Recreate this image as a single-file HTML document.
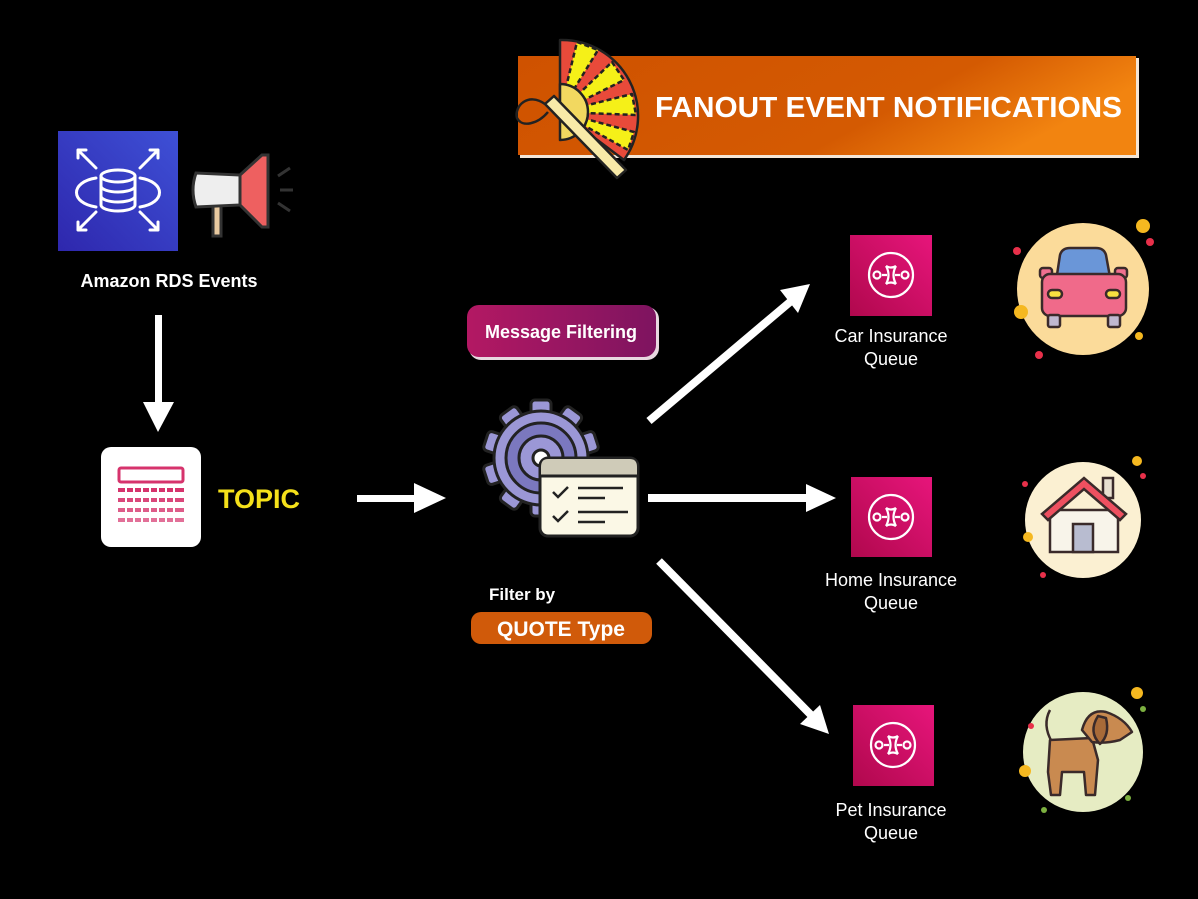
<!DOCTYPE html>
<html><head><meta charset="utf-8"><style>
html,body{margin:0;padding:0;background:#000;}
svg{display:block;}
text{font-family:"Liberation Sans",sans-serif;}
</style></head><body>
<svg width="1198" height="899" viewBox="0 0 1198 899" xmlns="http://www.w3.org/2000/svg">
<defs>
<linearGradient id="ban" x1="0" y1="0" x2="1" y2="0.3"><stop offset="0" stop-color="#cf5200"/><stop offset="0.7" stop-color="#d45a02"/><stop offset="1" stop-color="#f28410"/></linearGradient>
<linearGradient id="rds" x1="0" y1="1" x2="1" y2="0"><stop offset="0" stop-color="#2e27ad"/><stop offset="1" stop-color="#3e50d6"/></linearGradient>
<linearGradient id="sqs" x1="0" y1="1" x2="1" y2="0"><stop offset="0" stop-color="#b0084d"/><stop offset="1" stop-color="#e7157b"/></linearGradient>
<linearGradient id="mf" x1="0" y1="0" x2="1" y2="0"><stop offset="0" stop-color="#b31863"/><stop offset="1" stop-color="#7e1460"/></linearGradient>
</defs>
<rect width="1198" height="899" fill="#000"/>

<!-- Banner -->
<rect x="520" y="58" width="619" height="100" fill="#f3e6d8"/>
<rect x="518" y="56" width="618" height="99" fill="url(#ban)"/>
<text x="655" y="117" fill="#fff" font-size="29" font-weight="bold" textLength="467" lengthAdjust="spacingAndGlyphs">FANOUT EVENT NOTIFICATIONS</text>
<!-- Fan: sector centered (560,112) r 76 -->
<g stroke="#222" stroke-width="2.5" stroke-linejoin="round">
<path d="M560 112 L560 40 A76 76 0 0 1 624 160 Z" fill="#e84a3a"/>
<g fill="#f5f018" stroke-dasharray="5 3">
<path d="M560 112 L577 42 L598 50 Z"/>
<path d="M560 112 L612 62 L624 80 Z"/>
<path d="M560 112 L632 94 L636 115 Z"/>
<path d="M560 112 L634 132 L628 150 Z"/>
</g>
<path d="M560 84 A28 28 0 0 1 560 140 Z" fill="#f2d860"/>
<path d="M545 104 L554 96 L626 170 L617 178 Z" fill="#f8eaa8"/>
<path d="M545 104 C528 92 514 106 517 118 C522 128 538 124 548 112" fill="none"/>
</g>

<!-- RDS -->
<rect x="58" y="131" width="120" height="120" fill="url(#rds)"/>
<g stroke="#fff" stroke-width="3" fill="none" stroke-linecap="round">
<ellipse cx="118" cy="176" rx="17" ry="6"/>
<path d="M101 176 V205 M135 176 V205 M101 186 a17 6 0 0 0 34 0 M101 196 a17 6 0 0 0 34 0 M101 205 a17 6 0 0 0 34 0"/>
<path d="M96 178 C70 182 70 203 96 207 M140 178 C166 182 166 203 140 207"/>
<path d="M78 150 L96 168 M78 150 h8 M78 150 v8 M158 150 L140 168 M158 150 h-8 M158 150 v8 M78 230 L96 212 M78 230 h8 M78 230 v-8 M158 230 L140 212 M158 230 h-8 M158 230 v-8"/>
</g>
<!-- Megaphone -->
<g stroke="#333" stroke-width="3">
<rect x="213" y="200" width="8" height="36" fill="#e8c9a0"/>
<path d="M196 173 Q190 190 196 207 L240 205 L240 175 Z" fill="#eee"/>
<path d="M240 175 L262 155 L268 155 L268 227 L262 227 L240 205 Z" fill="#ee6060"/>
<path d="M278 176 L290 168 M280 190 L293 190 M278 203 L290 211" fill="none"/>
</g>
<text x="169" y="287" fill="#fff" font-size="18" font-weight="bold" text-anchor="middle">Amazon RDS Events</text>

<!-- down arrow -->
<rect x="155" y="315" width="7" height="90" fill="#fff"/>
<path d="M143 402 L174 402 L158 432 Z" fill="#fff"/>

<!-- Topic -->
<rect x="101" y="447" width="100" height="100" rx="10" fill="#fff"/>
<rect x="119" y="468" width="64" height="14" rx="2" fill="none" stroke="#d6336c" stroke-width="3"/>
<g fill="#d6336c">
<rect x="118" y="488" width="66" height="4"/>
<rect x="118" y="498" width="66" height="4" opacity="0.9"/>
<rect x="118" y="508" width="66" height="4" opacity="0.8"/>
<rect x="118" y="518" width="66" height="4" opacity="0.7"/>
</g>
<g stroke="#fff" stroke-width="2"><path d="M126 486 V525 M134 486 V525 M142 486 V525 M150 486 V525 M158 486 V525 M166 486 V525 M174 486 V525"/></g>
<text x="218" y="508" fill="#f5e11a" font-size="27" font-weight="bold">TOPIC</text>

<!-- right arrow -->
<rect x="357" y="495" width="60" height="7" fill="#fff"/>
<path d="M414 483 L446 498 L414 513 Z" fill="#fff"/>

<!-- Message Filtering -->
<rect x="469" y="307" width="190" height="53" rx="12" fill="#e8d8e0"/>
<rect x="467" y="305" width="189" height="52" rx="12" fill="url(#mf)"/>
<text x="561" y="338" fill="#fff" font-size="18" font-weight="bold" text-anchor="middle">Message Filtering</text>

<!-- Gear -->
<g stroke="#222" stroke-width="3" fill="#9b97d6">
<g id="tooth"><rect x="531" y="400" width="20" height="22" rx="4"/></g>
<use href="#tooth" transform="rotate(36 541 458)"/>
<use href="#tooth" transform="rotate(72 541 458)"/>
<use href="#tooth" transform="rotate(108 541 458)"/>
<use href="#tooth" transform="rotate(144 541 458)"/>
<use href="#tooth" transform="rotate(180 541 458)"/>
<use href="#tooth" transform="rotate(216 541 458)"/>
<use href="#tooth" transform="rotate(252 541 458)"/>
<use href="#tooth" transform="rotate(288 541 458)"/>
<use href="#tooth" transform="rotate(324 541 458)"/>
<circle cx="541" cy="458" r="47"/>
<circle cx="541" cy="458" r="35" fill="#7b78bf"/>
<circle cx="541" cy="458" r="22" fill="#9b97d6"/>
<circle cx="541" cy="458" r="8" fill="#fff"/>
</g>
<!-- checklist -->
<g stroke="#222" stroke-width="3">
<rect x="540" y="458" width="98" height="78" rx="8" fill="#fbf8e6"/>
<path d="M541 467 Q541 459 548 459 h82 Q637 459 637 467 v9 h-96 Z" fill="#cfcbb8" stroke="none"/>
<path d="M540 476 h98" />
<path d="M553 492 l5 5 l10-10 M553 516 l5 5 l10-10 M578 488 h45 M578 498 h27 M578 512 h50 M578 522 h27" fill="none" stroke-width="2.5"/>
</g>

<text x="489" y="600" fill="#fff" font-size="17" font-weight="bold">Filter by</text>
<rect x="471" y="612" width="181" height="32" rx="10" fill="#d05a0a"/>
<text x="561" y="636" fill="#fff" font-size="21" font-weight="bold" text-anchor="middle">QUOTE Type</text>

<!-- fan arrows -->
<g stroke="#fff" stroke-width="8">
<path d="M649 421 L790 302"/>
<path d="M648 498 L808 498"/>
<path d="M659 561 L812 716"/>
</g>
<path d="M780 290 L810 284 L798 313 Z" fill="#fff"/>
<path d="M806 484 L836 498 L806 512 Z" fill="#fff"/>
<path d="M800 724 L829 734 L820 705 Z" fill="#fff"/>

<!-- SQS icons -->
<rect x="850" y="235" width="82" height="81" fill="url(#sqs)"/>
<rect x="851" y="477" width="81" height="80" fill="url(#sqs)"/>
<rect x="853" y="705" width="81" height="81" fill="url(#sqs)"/>
<g fill="none" stroke="#fff" stroke-width="2.2">
<g transform="translate(891,275)"><circle r="22"/><circle cx="-14" r="3.5"/><circle cx="14" r="3.5"/><path d="M-9 0 h5 M4 0 h5 M-5 -9 q5 9 0 18 M5 -9 q-5 9 0 18 M-5 -9 q5 3 10 0 M-5 9 q5 -3 10 0"/></g>
<g transform="translate(891,517)"><circle r="22"/><circle cx="-14" r="3.5"/><circle cx="14" r="3.5"/><path d="M-9 0 h5 M4 0 h5 M-5 -9 q5 9 0 18 M5 -9 q-5 9 0 18 M-5 -9 q5 3 10 0 M-5 9 q5 -3 10 0"/></g>
<g transform="translate(893,745)"><circle r="22"/><circle cx="-14" r="3.5"/><circle cx="14" r="3.5"/><path d="M-9 0 h5 M4 0 h5 M-5 -9 q5 9 0 18 M5 -9 q-5 9 0 18 M-5 -9 q5 3 10 0 M-5 9 q5 -3 10 0"/></g>
</g>
<g fill="#fff" font-size="18" text-anchor="middle">
<text x="891" y="342">Car Insurance</text><text x="891" y="365">Queue</text>
<text x="891" y="586">Home Insurance</text><text x="891" y="609">Queue</text>
<text x="891" y="816">Pet Insurance</text><text x="891" y="839">Queue</text>
</g>

<!-- Car circle -->
<circle cx="1083" cy="289" r="66" fill="#fbdb9a"/>
<g stroke="#3a2a2a" stroke-width="2.5">
<path d="M1055 288 L1060 255 Q1062 248 1070 248 L1096 248 Q1104 248 1106 255 L1112 288 Z" fill="#6a96d8"/>
<rect x="1040" y="268" width="12" height="10" rx="3" fill="#f07090"/>
<rect x="1115" y="268" width="12" height="10" rx="3" fill="#f07090"/>
<rect x="1042" y="274" width="84" height="42" rx="8" fill="#f06a8a"/>
<rect x="1048" y="315" width="12" height="12" rx="2" fill="#c0b8d0"/>
<rect x="1108" y="315" width="12" height="12" rx="2" fill="#c0b8d0"/>
<rect x="1048" y="290" width="14" height="8" rx="4" fill="#f8e040"/>
<rect x="1106" y="290" width="14" height="8" rx="4" fill="#f8e040"/>
</g>
<g fill="#f5b820"><circle cx="1143" cy="226" r="7"/><circle cx="1021" cy="312" r="7"/><circle cx="1139" cy="336" r="4"/></g>
<g fill="#e8304a"><circle cx="1150" cy="242" r="4"/><circle cx="1017" cy="251" r="4"/><circle cx="1039" cy="355" r="4"/></g>

<!-- House circle -->
<circle cx="1083" cy="520" r="58" fill="#fbf0d2"/>
<g stroke="#3a2a2a" stroke-width="2.5">
<rect x="1103" y="478" width="10" height="20" fill="#e8e0d0"/>
<rect x="1050" y="510" width="68" height="42" fill="#f8f4ea"/>
<path d="M1042 514 L1084 478 L1126 514 L1120 520 L1084 489 L1048 520 Z" fill="#ee5060"/>
<rect x="1073" y="524" width="20" height="28" fill="#b8bcd0"/>
</g>
<g fill="#f5b820"><circle cx="1137" cy="461" r="5"/><circle cx="1028" cy="537" r="5"/></g>
<g fill="#e8304a"><circle cx="1143" cy="476" r="3"/><circle cx="1025" cy="484" r="3"/><circle cx="1043" cy="575" r="3"/></g>

<!-- Dog circle -->
<circle cx="1083" cy="752" r="60" fill="#e6ecc3"/>
<g stroke="#3a2a2a" stroke-width="2.5" fill="#c98a50" stroke-linejoin="round">
<path d="M1052 742 Q1042 725 1050 710" fill="none"/>
<path d="M1050 740 L1092 738 L1098 760 L1095 795 L1086 795 L1084 772 L1062 772 L1060 795 L1051 795 L1048 772 Z"/>
<path d="M1082 730 Q1088 708 1106 712 Q1124 718 1132 732 L1120 740 Q1105 744 1092 742 Z"/>
<path d="M1098 716 Q1088 732 1100 744 Q1110 735 1106 718 Z" fill="#a86a38"/>
</g>
<g fill="#f5b820"><circle cx="1137" cy="693" r="6"/><circle cx="1025" cy="771" r="6"/></g>
<g fill="#e8304a"><circle cx="1031" cy="726" r="3"/></g>
<g fill="#7cb040"><circle cx="1143" cy="709" r="3"/><circle cx="1044" cy="810" r="3"/><circle cx="1128" cy="798" r="3"/></g>
</svg>
</body></html>
